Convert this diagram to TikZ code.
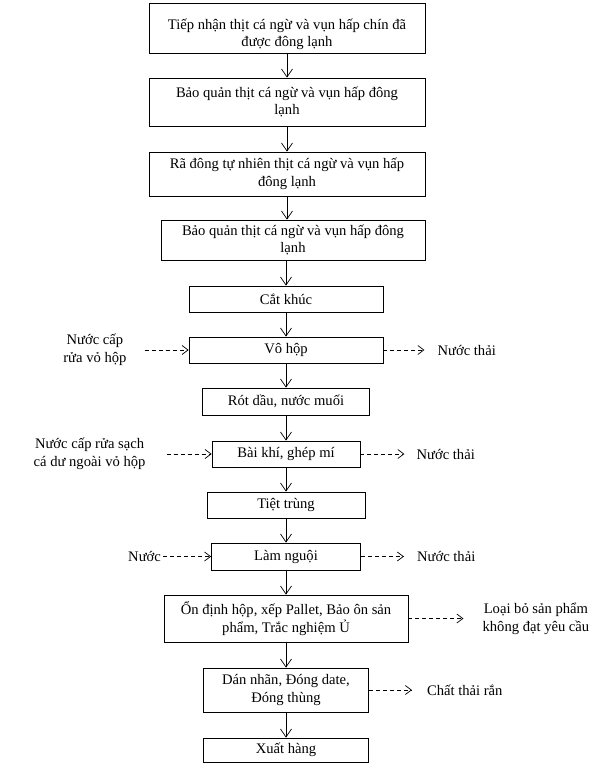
\documentclass[tikz,border=0pt]{standalone}
\usepackage{fontspec}
\setmainfont{Liberation Serif}
\usetikzlibrary{positioning, arrows.meta}

\begin{document}
\begin{tikzpicture}[x=1pt, y=-1pt, font=\fontsize{14.6}{17.6}\selectfont,
stepbox/.style={draw, line width=0.8pt, align=center, inner sep=2pt},
lbl/.style={align=center, inner ysep=1pt},
flow/.style={line width=0.7pt, -{Straight Barb[length=8pt, width=11pt]}},
side/.style={line width=0.7pt, dash pattern=on 4pt off 3pt, -{Straight Barb[length=6pt, width=9pt]}}]
\useasboundingbox (0,0) rectangle (593,767);
% main chain
\node[stepbox, minimum width=276pt, minimum height=50pt] (tiepnhan) at (287,28) {\rule{0pt}{23pt}Tiếp nhận thịt cá ngừ và vụn hấp chín đã\\được đông lạnh};
\node[stepbox, minimum width=276pt, minimum height=48pt, below=24.2pt of tiepnhan] (baoquan1) {Bảo quản thịt cá ngừ và vụn hấp đông\\lạnh};
\node[stepbox, minimum width=276pt, minimum height=44pt, below=25.2pt of baoquan1] (radong) {Rã đông tự nhiên thịt cá ngừ và vụn hấp\\đông lạnh};
\node[stepbox, minimum width=264pt, minimum height=40pt, below=23.2pt of radong, xshift=6pt] (baoquan2) {Bảo quản thịt cá ngừ và vụn hấp đông\\lạnh};
\node[stepbox, minimum width=194pt, minimum height=26pt, below=25.2pt of baoquan2, xshift=-7pt] (catkhuc) {Cắt khúc};
\node[stepbox, minimum width=194pt, minimum height=26pt, below=24.2pt of catkhuc] (vohop) {Vô hộp};
\node[stepbox, minimum width=167pt, minimum height=27pt, below=24.2pt of vohop] (rotdau) {Rót dầu, nước muối};
\node[stepbox, minimum width=148pt, minimum height=26pt, below=25.2pt of rotdau] (baikhi) {Bài khí, ghép mí};
\node[stepbox, minimum width=158pt, minimum height=26pt, below=24.2pt of baikhi] (tiettrung) {Tiệt trùng};
\node[stepbox, minimum width=149pt, minimum height=27pt, below=24.2pt of tiettrung] (lamnguoi) {Làm nguội};
\node[stepbox, minimum width=244pt, minimum height=47pt, below=24.2pt of lamnguoi] (ondinh) {Ổn định hộp, xếp Pallet, Bảo ôn sản\\phẩm, Trắc nghiệm Ủ};
\node[stepbox, minimum width=165pt, minimum height=44pt, below=25.2pt of ondinh] (dannhan) {Dán nhãn, Đóng date,\\Đóng thùng};
\node[stepbox, minimum width=165pt, minimum height=24pt, below=25.2pt of dannhan] (xuathang) {Xuất hàng};
% side inputs and outputs
\node[lbl, inner xsep=18pt, left=44pt of vohop] (nuoccap1) {Nước cấp\\rửa vỏ hộp};
\node[lbl, inner xsep=13pt, right=41pt of vohop] (nuocthai1) {Nước thải};
\node[lbl, inner xsep=21pt, left=45pt of baikhi] (nuoccap2) {Nước cấp rửa sạch\\cá dư ngoài vỏ hộp};
\node[lbl, inner xsep=12pt, right=44pt of baikhi] (nuocthai2) {Nước thải};
\node[lbl, inner xsep=2pt, left=48pt of lamnguoi] (nuoc) {Nước};
\node[lbl, inner xsep=13pt, right=43pt of lamnguoi] (nuocthai3) {Nước thải};
\node[lbl, inner xsep=19pt, right=55pt of ondinh] (loaibo) {Loại bỏ sản phẩm\\không đạt yêu cầu};
\node[lbl, inner xsep=15pt, right=43pt of dannhan] (chatthai) {Chất thải rắn};
% connectors
\draw[flow] (tiepnhan) -- (baoquan1);
\draw[flow] (baoquan1) -- (radong);
\draw[flow] (radong) -- (radong |- baoquan2.north);
\draw[flow] (baoquan2.south -| catkhuc) -- (catkhuc);
\foreach \a/\b in {catkhuc/vohop, vohop/rotdau, rotdau/baikhi, baikhi/tiettrung, tiettrung/lamnguoi, lamnguoi/ondinh, ondinh/dannhan, dannhan/xuathang}
  \draw[flow] (\a) -- (\b);
\draw[side] (nuoccap1) -- (vohop);
\draw[side] (vohop) -- (nuocthai1);
\draw[side] (nuoccap2) -- (baikhi);
\draw[side] (baikhi) -- (nuocthai2);
\draw[side] (nuoc) -- (lamnguoi);
\draw[side] (lamnguoi) -- (nuocthai3);
\draw[side] (ondinh) -- (loaibo);
\draw[side] (dannhan) -- (chatthai);
\end{tikzpicture}
\end{document}
